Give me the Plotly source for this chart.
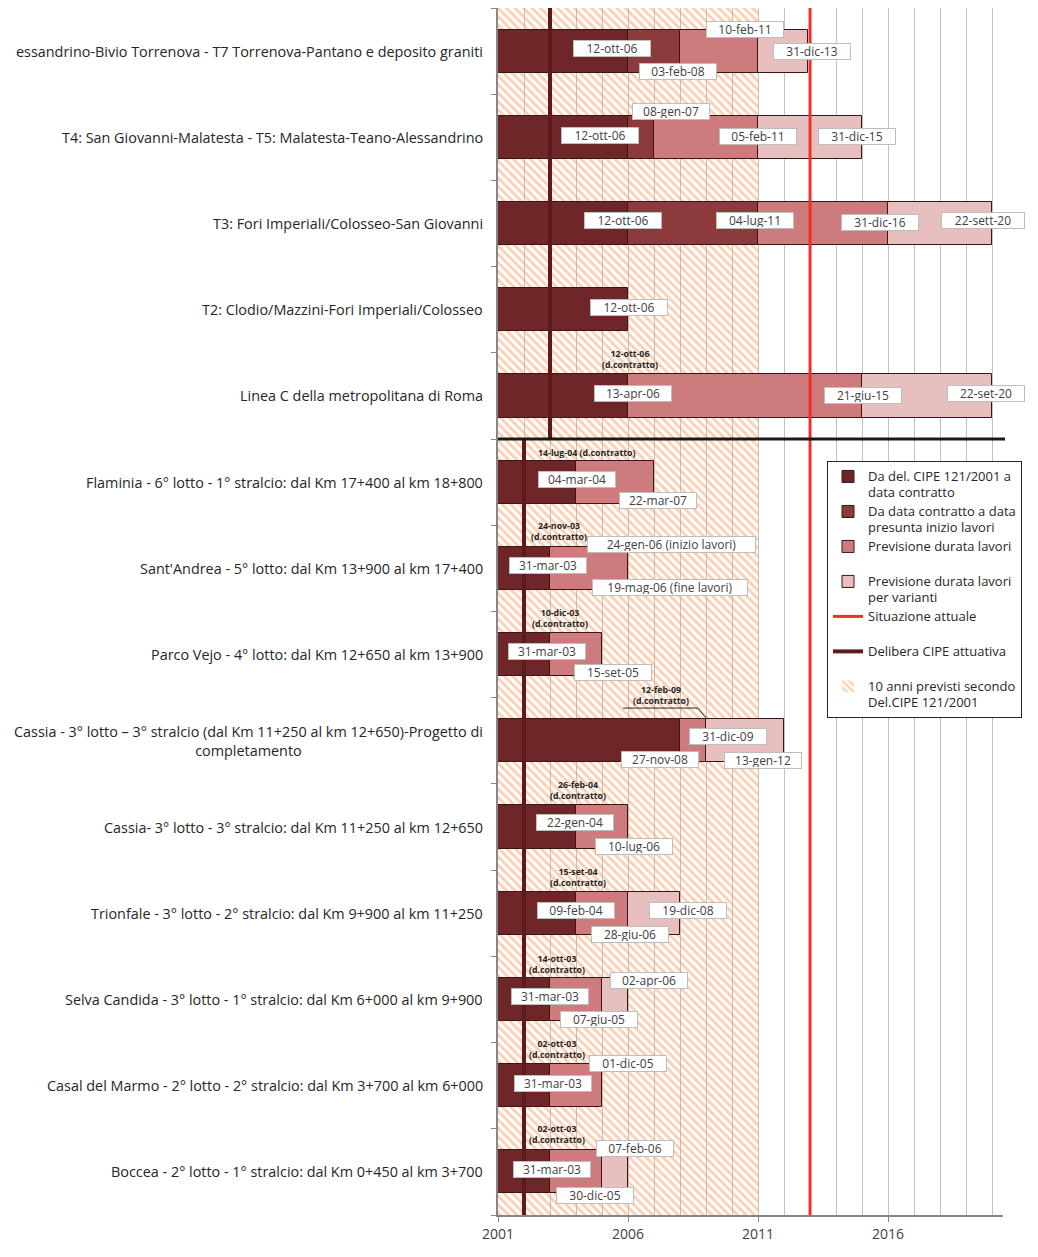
import plotly.graph_objects as go

# ---------------- data ----------------
categories = [
    "essandrino-Bivio Torrenova - T7 Torrenova-Pantano e deposito graniti",
    "T4: San Giovanni-Malatesta - T5: Malatesta-Teano-Alessandrino",
    "T3: Fori Imperiali/Colosseo-San Giovanni",
    "T2: Clodio/Mazzini-Fori Imperiali/Colosseo",
    "Linea C della metropolitana di Roma",
    "Flaminia - 6° lotto - 1° stralcio: dal Km 17+400 al km 18+800",
    "Sant'Andrea - 5° lotto: dal Km 13+900 al km 17+400",
    "Parco Vejo - 4° lotto: dal Km 12+650 al km 13+900",
    "Cassia - 3° lotto – 3° stralcio (dal Km 11+250 al km 12+650)-Progetto di<br>completamento",
    "Cassia- 3° lotto - 3° stralcio: dal Km 11+250 al km 12+650",
    "Trionfale - 3° lotto - 2° stralcio: dal Km 9+900 al km 11+250",
    "Selva Candida - 3° lotto - 1° stralcio: dal Km 6+000 al km 9+900",
    "Casal del Marmo - 2° lotto - 2° stralcio: dal Km 3+700 al km 6+000",
    "Boccea - 2° lotto - 1° stralcio: dal Km 0+450 al km 3+700",
]

start_year = 2001
# durations (years) of each phase, per category
seg_cipe_contratto = [5, 5, 5, 5, 5, 3, 2, 2, 7, 3, 3, 2, 2, 2]
seg_contratto_inizio = [2, 1, 5, 0, 0, 0, 0, 0, 0, 0, 0, 0, 0, 0]
seg_durata_lavori = [3, 4, 5, 0, 9, 3, 3, 2, 1, 2, 2, 2, 2, 2]
seg_varianti = [1.93, 4, 4, 0, 5, 0, 0, 0, 3, 0, 2, 1, 0, 1]

series_names = [
    ["Da del. CIPE 121/2001 a", "data contratto"],
    ["Da data contratto a data", "presunta inizio lavori"],
    ["Previsione durata lavori", "\u00a0"],
    ["Previsione durata lavori", "per varianti"],
]
name_situazione = ["Situazione attuale", "\u00a0"]
name_delibera = ["Delibera CIPE attuativa", "\u00a0"]
name_dieci = ["10 anni previsti secondo", "Del.CIPE 121/2001"]

situazione_attuale = 2013
delibera_top = 2003      # Linea C section
delibera_bottom = 2002   # lower section
dieci_anni = 10
n_top_rows = 5

x_tick_labels = [2001, 2006, 2011, 2016]

# date labels: (text, year position, row position, kind)
date_labels = [
    ("12-ott-06", 2005.38, -0.03, "box"), ("03-feb-08", 2007.92, 0.24, "box"),
    ("10-feb-11", 2010.50, -0.25, "box"), ("31-dic-13", 2013.08, 0.00, "box"),
    ("08-gen-07", 2007.65, 0.70, "box"), ("12-ott-06", 2004.92, 0.98, "box"),
    ("05-feb-11", 2011.00, 0.99, "box"), ("31-dic-15", 2014.81, 0.99, "box"),
    ("12-ott-06", 2005.81, 1.97, "box"), ("04-lug-11", 2010.88, 1.97, "box"),
    ("31-dic-16", 2015.69, 1.99, "box"), ("22-sett-20", 2019.65, 1.97, "box"),
    ("12-ott-06", 2006.04, 2.97, "box"),
    ("12-ott-06<br>(d.contratto)", 2006.08, 3.58, "bold"),
    ("13-apr-06", 2006.19, 3.97, "box"), ("21-giu-15", 2015.04, 3.99, "box"),
    ("22-set-20", 2019.77, 3.97, "box"),
    ("14-lug-04 (d.contratto)", 2004.42, 4.66, "bold"),
    ("04-mar-04", 2004.04, 4.97, "box"), ("22-mar-07", 2007.15, 5.21, "box"),
    ("24-nov-03<br>(d.contratto)", 2003.33, 5.57, "bold"),
    ("24-gen-06 (inizio lavori)", 2007.69, 5.72, "box"),
    ("31-mar-03", 2002.92, 5.97, "box"),
    ("19-mag-06 (fine lavori)", 2007.62, 6.22, "box"),
    ("10-dic-03<br>(d.contratto)", 2003.38, 6.58, "bold"),
    ("31-mar-03", 2002.88, 6.96, "box"), ("15-set-05", 2005.42, 7.21, "box"),
    ("12-feb-09<br>(d.contratto)", 2007.27, 7.47, "bold"),
    ("31-dic-09", 2009.85, 7.95, "box"), ("27-nov-08", 2007.23, 8.22, "box"),
    ("13-gen-12", 2011.19, 8.23, "box"),
    ("26-feb-04<br>(d.contratto)", 2004.08, 8.58, "bold"),
    ("22-gen-04", 2003.96, 8.95, "box"), ("10-lug-06", 2006.23, 9.22, "box"),
    ("15-set-04<br>(d.contratto)", 2004.08, 9.58, "bold"),
    ("09-feb-04", 2004.00, 9.97, "box"), ("19-dic-08", 2008.31, 9.97, "box"),
    ("28-giu-06", 2006.08, 10.25, "box"),
    ("14-ott-03<br>(d.contratto)", 2003.27, 10.59, "bold"),
    ("02-apr-06", 2006.81, 10.78, "box"), ("31-mar-03", 2003.00, 10.96, "box"),
    ("07-giu-05", 2004.88, 11.23, "box"),
    ("02-ott-03<br>(d.contratto)", 2003.27, 11.58, "bold"),
    ("01-dic-05", 2006.00, 11.74, "box"), ("31-mar-03", 2003.12, 11.98, "box"),
    ("02-ott-03<br>(d.contratto)", 2003.27, 12.57, "bold"),
    ("07-feb-06", 2006.27, 12.73, "box"), ("31-mar-03", 2003.08, 12.97, "box"),
    ("30-dic-05", 2004.73, 13.27, "box"),
]
# leader line for the 12-feb-09 label
leader_x = [2005.81, 2008.69, 2009.04]
leader_y = [7.62, 7.62, 7.75]

# ---------------- styling ----------------
FONT = "Open Sans"
seg_colors = ["#6e2628", "#8c3a3b", "#cd7b7c", "#e8bfbf"]
edge = "#3a1416"
n = len(categories)
rows = list(range(n))


def legend_name(lines):
    return "<br>".join('<span style="font-size:13px">%s</span>' % s for s in lines)


fig = go.Figure()

# hatched 10-year background
fig.add_trace(go.Bar(
    y=[(n - 1) / 2], x=[dieci_anni], base=[start_year], width=[n],
    orientation="h", name=legend_name(name_dieci), legendrank=7,
    marker=dict(color="rgba(255,255,255,0)",
                line=dict(width=0, color=edge),
                pattern=dict(shape="\\", fgcolor="#f6a46c", bgcolor="rgba(255,255,255,0)",
                             size=6, solidity=0.5)),
    hoverinfo="skip",
))

all_segs = [seg_cipe_contratto, seg_contratto_inizio, seg_durata_lavori, seg_varianti]
cum = [start_year] * n
for k, seg in enumerate(all_segs):
    ys, xs, bs = [], [], []
    for i in rows:
        if seg[i] > 0:
            ys.append(i); xs.append(seg[i]); bs.append(cum[i])
        cum[i] = cum[i] + seg[i]
    fig.add_trace(go.Bar(
        y=ys, x=xs, base=bs, width=0.5, orientation="h",
        name=legend_name(series_names[k]), legendrank=k + 1,
        marker=dict(color=seg_colors[k], line=dict(color=edge, width=1)),
    ))

# Delibera CIPE attuativa line
fig.add_trace(go.Scatter(
    x=[delibera_top, delibera_top, None, delibera_bottom, delibera_bottom],
    y=[-0.5, n_top_rows - 0.5, None, n_top_rows - 0.5, n - 0.5],
    mode="lines", line=dict(color="#5c1a1c", width=4),
    name=legend_name(name_delibera), legendrank=6, cliponaxis=False,
))
# Situazione attuale
fig.add_trace(go.Scatter(
    x=[situazione_attuale, situazione_attuale], y=[-0.5, n - 0.5],
    mode="lines", line=dict(color="#ee3124", width=3),
    name=legend_name(name_situazione), legendrank=5,
))
# leader line
fig.add_trace(go.Scatter(
    x=leader_x, y=leader_y, mode="lines", line=dict(color="#262626", width=1),
    showlegend=False, hoverinfo="skip",
))

annotations = []
for i, c in enumerate(categories):
    annotations.append(dict(
        xref="paper", yref="y", x=0, y=i, xanchor="right", xshift=-13,
        text=c, showarrow=False, align="center",
        font=dict(family=FONT, size=14.4, color="#262626"),
    ))
for text, xv, yv, kind in date_labels:
    if kind == "box":
        w = 74 if len(text) <= 9 else (80 if len(text) <= 10 else len(text) * 6.6)
        annotations.append(dict(
            xref="x", yref="y", x=xv, y=yv, text=text, showarrow=False,
            bgcolor="white", bordercolor="#bdbdbd", borderwidth=1, borderpad=1,
            width=w, height=13,
            font=dict(family=FONT, size=12, color="#404040"),
        ))
    else:
        annotations.append(dict(
            xref="x", yref="y", x=xv, y=yv, text="<b>" + text + "</b>", showarrow=False,
            font=dict(family=FONT, size=8.8, color="#262626"),
        ))

W, H = 1030, 1249
fig.update_layout(
    width=W, height=H,
    margin=dict(l=490, r=35, t=0, b=42),
    plot_bgcolor="white", paper_bgcolor="white",
    barmode="overlay", bargap=0,
    font=dict(family=FONT, color="#404040"),
    annotations=annotations,
    shapes=[dict(type="line", xref="paper", yref="y", x0=0, x1=1.004,
                 y0=n_top_rows - 0.5, y1=n_top_rows - 0.5,
                 line=dict(color="#1a1a1a", width=3), layer="above")],
    legend=dict(x=0.6515, y=0.6247, xanchor="left", yanchor="top",
                bgcolor="white", bordercolor="#262626", borderwidth=1,
                font=dict(family=FONT, size=12.3, color="#262626"),
                valign="top", tracegroupgap=0),
    xaxis=dict(range=[2001, 2020.42], tickvals=x_tick_labels,
               ticktext=[str(v) for v in x_tick_labels],
               showgrid=True, gridcolor="#c0c0c0", gridwidth=1,
               minor=dict(dtick=1, tick0=2001, showgrid=True, gridcolor="#c0c0c0", gridwidth=1),
               showline=True, linecolor="#868686", linewidth=1.5,
               ticks="outside", ticklen=5, tickcolor="#868686",
               tickfont=dict(family=FONT, size=14, color="#404040"),
               zeroline=False),
    yaxis=dict(range=[n - 0.5, -0.5], tickvals=[i - 0.5 for i in range(n + 1)],
               showticklabels=False, showgrid=False, zeroline=False,
               showline=True, linecolor="#868686", linewidth=1.5,
               ticks="outside", ticklen=5, tickcolor="#868686"),
)

fig.write_html("out.html")
